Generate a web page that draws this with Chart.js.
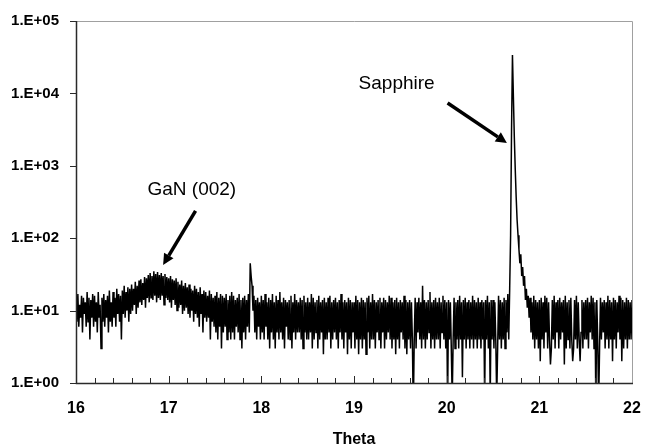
<!DOCTYPE html>
<html>
<head>
<meta charset="utf-8">
<script src="https://cdn.jsdelivr.net/npm/chart.js@4.4.1/dist/chart.umd.min.js"></script>
<style>
  html, body { margin: 0; padding: 0; background: #fff; }
  #wrap { width: 645px; height: 445px; }
</style>
</head>
<body>
<div id="wrap"><canvas id="xrd" width="645" height="445"></canvas></div>
<script>
// ====================== Data ======================
// scan from 16.00 deg in 0.01 deg steps, counts
const thetaStart = 16.0;
const thetaStep = 0.01;
const counts = [
  14,7,17,6,12,8,16,5,15,9,        // 16.0
  13,6,18,7,15,4,14,8,17,6,
  16,7,13,5,18,8,12,3,15,7,
  17,6,14,8,16,5,19,7,13,6,
  18,8,15,6,20,9,17,7,16,4,
  19,9,22,8,18,10,21,7,20,9,
  23,10,20,12,25,9,22,11,26,13,
  27,12,24,14,29,11,28,15,31,13,
  33,15,30,14,35,16,32,13,34,15,
  31,14,33,16,30,12,32,15,29,14,
  28,13,30,11,27,14,26,12,28,10,   // 17.0
  25,11,23,12,26,9,22,10,24,11,
  21,9,23,8,20,10,19,7,22,9,
  20,8,18,6,21,9,17,5,19,8,
  18,7,16,8,19,4,17,7,15,6,
  16,5,18,4,15,6,17,3,16,5,
  15,6,17,4,14,5,16,4,18,5,
  16,4,14,6,15,5,17,4,14,3,
  15,5,16,4,14,6,17,5,45,30,
  22,10,16,5,14,4,15,6,13,4,
  16,5,14,4,17,6,13,4,15,3,        // 18.0
  14,5,17,4,13,3,16,5,14,4,
  18,5,13,4,15,3,14,6,13,4,
  14,4,16,3,13,5,17,4,14,5,
  13,5,15,4,14,3,16,5,13,4,
  15,4,13,5,17,3,15,4,13,5,
  14,3,16,4,13,5,14,2.5,15,4,
  13,4,15,5,16,3,13,4,14,5,
  15,4,13,3,14,5,17,4,13,3,
  14,5,13,2.5,15,4,14,3,13,5,
  13,3,16,4,14,2.5,13,4,15,3,      // 19.0
  14,4,13,2.5,15,5,16,3,13,4,
  17,4,14,3,13,5,14,4,15,3,
  13,5,15,3,14,4,13,5,16,4,
  15,3,13,4,14,2.5,15,4,13,3,
  14,5,13,4,16,3,14,2.5,13,4,
  14,3,13,4,0.4,4,15,3,13,5,
  15,4,13,3,22,4,14,3,13,4,
  14,5,18,3,13,4,14,3,15,4,
  13,4,15,3,13,5,16,4,14,3,
  13,0.5,14,4,13,3,0.6,4,15,3,     // 20.0
  13,4,14,3,16,4,13,1.2,14,4,
  15,3,13,4,14,3,13,4,16,3,
  14,4,13,3,15,4,13,3,14,4,
  13,0.6,14,4,16,3,13,0.6,14,4,
  14,3,13,4,0.6,3,16,4,14,3,
  13,4,15,3,14,5,17,4,20,110,
  3000,34000,9000,2500,900,370,180,110,70,45,
  60,30,40,22,30,14,20,11,16,8,
  15,5,13,4,16,3,14,4,13,3,
  14,2,15,4,13,3,16,5,15,3,        // 21.0
  13,4,1.8,3,14,4,16,3,13,5,
  14,3,15,4,13,5,14,1.8,16,3,
  13,4,14,3,15,4,2,3,14,4,
  16,3,13,4,2,5,14,3,13,4,
  14,4,15,3,13,5,16,4,15,3,
  13,0.5,14,4,0.5,3,15,4,13,5,
  14,3,13,4,16,3,14,4,13,2,
  15,4,14,3,13,5,16,4,15,2,
  14,3,13,4,15,3,14,4,13,4,
  14                               // 22.0
];

const xTicks = [16, 17, 18, 19, 20, 21, 22];
const yTicks = [1, 10, 100, 1000, 10000, 100000];
const yTickLabels = ['1.E+00', '1.E+01', '1.E+02', '1.E+03', '1.E+04', '1.E+05'];

// ====================== Annotations (data units) ======================
const notes = [
  { text: 'GaN (002)', at: [17.25, 463], from: [17.29, 238], to: [16.94, 42.7] },
  { text: 'Sapphire', at: [19.46, 13480], from: [20.01, 7370], to: [20.65, 2065] }
];

const FONT = '"Liberation Sans", Arial, sans-serif';
const points = counts.map((c, i) => ({ x: +(thetaStart + i * thetaStep).toFixed(2), y: c }));

function drawArrow(ctx, x1, y1, x2, y2) {
  const ang = Math.atan2(y2 - y1, x2 - x1);
  const head = 11, half = 5.5;
  const bx = x2 - head * Math.cos(ang), by = y2 - head * Math.sin(ang);
  ctx.lineWidth = 3.5;
  ctx.beginPath();
  ctx.moveTo(x1, y1);
  ctx.lineTo(bx, by);
  ctx.stroke();
  ctx.beginPath();
  ctx.moveTo(x2, y2);
  ctx.lineTo(bx - half * Math.sin(ang), by + half * Math.cos(ang));
  ctx.lineTo(bx + half * Math.sin(ang), by - half * Math.cos(ang));
  ctx.closePath();
  ctx.fill();
}

// ====================== Frame, ticks, notes ======================
const framePlugin = {
  id: 'frame',
  afterDatasetsDraw(chart) {
    const { ctx, chartArea: a, scales: { x, y } } = chart;
    ctx.save();

    // plot area border (top / right)
    ctx.strokeStyle = '#a0a0a0';
    ctx.lineWidth = 1;
    ctx.beginPath();
    ctx.moveTo(a.left, a.top + 0.5);
    ctx.lineTo(a.right + 0.5, a.top + 0.5);
    ctx.lineTo(a.right + 0.5, a.bottom);
    ctx.stroke();

    // axes
    ctx.strokeStyle = '#2a2a2a';
    ctx.lineWidth = 1.5;
    ctx.beginPath();
    ctx.moveTo(a.left + 0.5, a.top);
    ctx.lineTo(a.left + 0.5, a.bottom + 0.5);
    ctx.lineTo(a.right + 1, a.bottom + 0.5);
    ctx.stroke();

    ctx.lineWidth = 1;
    ctx.beginPath();
    yTicks.forEach(v => {
      const py = Math.round(y.getPixelForValue(v)) + 0.5;
      ctx.moveTo(a.left - 6, py);
      ctx.lineTo(a.left, py);
    });
    for (let i = 1; i < (xTicks.length - 1) * 5; i++) {
      const v = xTicks[0] + i * 0.2;
      const px = Math.round(x.getPixelForValue(v)) + 0.5;
      const len = i % 5 === 0 ? 7 : 5;
      ctx.moveTo(px, a.bottom);
      ctx.lineTo(px, a.bottom - len);
    }
    ctx.stroke();

    // annotations
    ctx.fillStyle = '#000';
    ctx.strokeStyle = '#000';
    ctx.font = '19px ' + FONT;
    ctx.textAlign = 'center';
    ctx.textBaseline = 'middle';
    notes.forEach(n => {
      ctx.fillText(n.text, x.getPixelForValue(n.at[0]), y.getPixelForValue(n.at[1]));
      drawArrow(ctx,
        x.getPixelForValue(n.from[0]), y.getPixelForValue(n.from[1]),
        x.getPixelForValue(n.to[0]), y.getPixelForValue(n.to[1]));
    });
    ctx.restore();
  }
};

// ====================== Chart ======================
new Chart(document.getElementById('xrd'), {
  type: 'line',
  data: {
    datasets: [{
      data: points,
      borderColor: '#000',
      borderWidth: 1.5,
      pointRadius: 0,
      tension: 0,
      fill: false
    }]
  },
  options: {
    responsive: false,
    animation: false,
    layout: { padding: { left: 0, top: 21, right: 13, bottom: 0 } },
    plugins: { legend: { display: false }, tooltip: { enabled: false } },
    scales: {
      x: {
        type: 'linear',
        min: 16,
        max: 22,
        afterBuildTicks: s => { s.ticks = xTicks.map(v => ({ value: v })); },
        afterFit: s => { s.height = 62; s.paddingLeft = 0; s.paddingRight = 0; },
        grid: { display: false, drawTicks: false },
        border: { display: false },
        ticks: {
          padding: 16,
          autoSkip: false,
          maxRotation: 0,
          color: '#000',
          font: { family: FONT, size: 16, weight: 'bold' }
        },
        title: {
          display: true,
          text: 'Theta',
          color: '#000',
          font: { family: FONT, size: 16, weight: 'bold' },
          padding: { top: 0, bottom: -4 }
        }
      },
      y: {
        type: 'logarithmic',
        min: 1,
        max: 100000,
        afterBuildTicks: s => { s.ticks = yTicks.map(v => ({ value: v })); },
        afterFit: s => { s.width = 76; s.paddingTop = 0; s.paddingBottom = 0; },
        grid: { display: false, drawTicks: false },
        border: { display: false },
        ticks: {
          padding: 17,
          color: '#000',
          font: { family: FONT, size: 15, weight: 'bold' },
          callback: v => yTickLabels[yTicks.indexOf(v)] || ''
        }
      }
    }
  },
  plugins: [framePlugin]
});
</script>
</body>
</html>
